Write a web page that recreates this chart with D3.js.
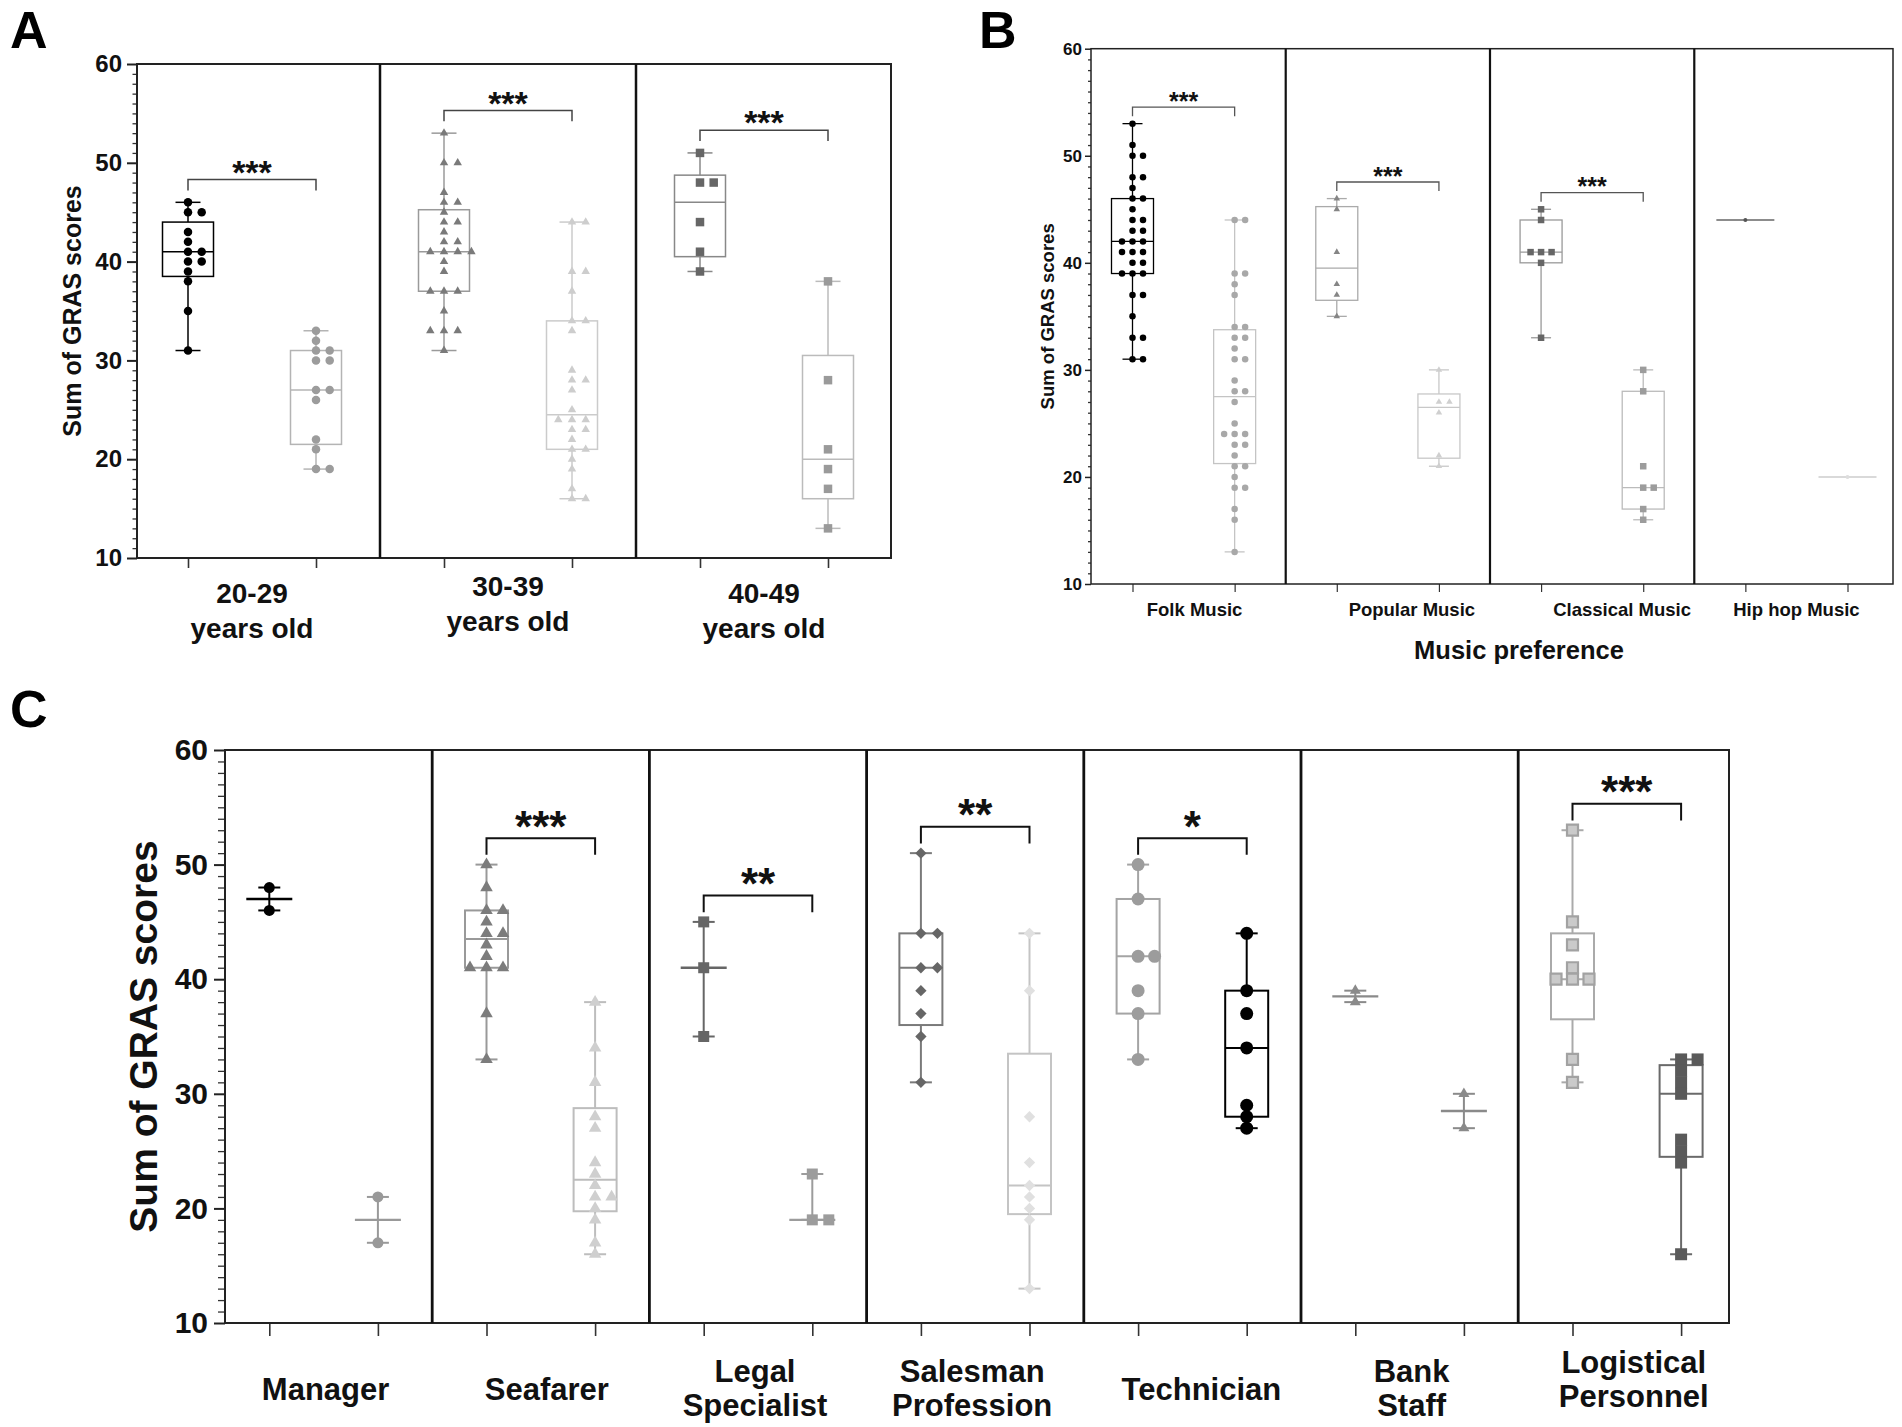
<!DOCTYPE html>
<html>
<head>
<meta charset="utf-8">
<script src="https://cdn.jsdelivr.net/npm/d3@7"></script>
<style>
  body { margin: 0; background: #fff; }
  svg text { font-family: "Liberation Sans", Arial, sans-serif; }
</style>
</head>
<body>
<svg id="fig" width="1902" height="1427"></svg>
<script>
// ---- data (sum of GRAS scores per respondent) ----
const yTicks = [10, 20, 30, 40, 50, 60];

// A: age groups
const ageLabels = [["20-29", "years old"], ["30-39", "years old"], ["40-49", "years old"]];
const ageFirst = [
  [46, 45, 45, 43, 42, 41, 41, 40, 40, 39, 38, 35, 31],
  [53, 50, 50, 47, 46, 46, 45, 44, 44, 43, 42, 42, 41, 41, 41, 41, 40, 39, 37, 37, 37, 35, 33, 33, 33, 31],
  [51, 48, 48, 44, 41, 39]
];
const ageSecond = [
  [33, 32, 31, 31, 30, 30, 27, 27, 26, 22, 21, 19, 19],
  [44, 44, 39, 39, 37, 34, 34, 33, 29, 28, 28, 27, 25, 24, 24, 24, 23, 23, 22, 21, 21, 20, 19, 17, 16, 16],
  [38, 28, 21, 19, 17, 13]
];
const ageStars = ["***", "***", "***"];

// B: music preference
const musicLabels = [["Folk Music"], ["Popular Music"], ["Classical Music"], ["Hip hop Music"]];
const musicFirst = [
  [53, 51, 50, 50, 48, 48, 47, 46, 46, 45, 44, 44, 43, 43, 42, 42, 42, 41, 41, 41, 40, 40, 39, 39, 39, 37, 37, 35, 33, 33, 31, 31],
  [46, 45, 41, 38, 37, 35],
  [45, 44, 41, 41, 41, 40, 33],
  [44]
];
const musicSecond = [
  [44, 44, 39, 39, 38, 37, 34, 34, 33, 33, 32, 31, 31, 29, 28, 28, 27, 25, 24, 24, 24, 23, 23, 22, 21, 21, 20, 19, 19, 17, 16, 13],
  [30, 27, 27, 26, 22, 21],
  [30, 28, 21, 19, 19, 17, 16],
  [20]
];
const musicStars = ["***", "***", "***", ""];

// C: occupation
const jobLabels = [["Manager"], ["Seafarer"], ["Legal", "Specialist"], ["Salesman", "Profession"],
                   ["Technician"], ["Bank", "Staff"], ["Logistical", "Personnel"]];
const jobFirst = [
  [48, 46],
  [50, 48, 46, 46, 45, 44, 44, 43, 42, 41, 41, 41, 37, 33],
  [45, 41, 35],
  [51, 44, 44, 41, 41, 39, 37, 35, 31],
  [50, 47, 42, 42, 39, 37, 33],
  [39, 38],
  [53, 45, 43, 41, 40, 40, 40, 33, 31]
];
const jobSecond = [
  [21, 17],
  [38, 34, 31, 28, 27, 24, 23, 22, 21, 21, 20, 19, 17, 16],
  [23, 19, 19],
  [44, 39, 28, 24, 22, 21, 20, 19, 13],
  [44, 39, 37, 34, 29, 28, 27],
  [30, 27],
  [33, 33, 32, 31, 30, 26, 25, 24, 16]
];
const jobStars = ["", "***", "**", "**", "*", "", "***"];

// ---- panel layout / styles ----
const panels = [
  {
    letter: "A", lx: 10, ly: 48,
    labels: ageLabels, first: ageFirst, second: ageSecond, stars: ageStars,
    left: 137, right: 891, x0: 188, x1: 828, top: 64, bottom: 558,
    tickFont: 24, majorLen: 10, minorLen: 4.5, tickPad: 5, xTickLen: 10,
    labelFont: 28, labelY: [603, 638], labelNudge: [0, 0, 0], labelLift: [0, 7, 0],
    title: "Sum of GRAS scores", titleFont: 25, titleX: 72,
    boxW: 51, capW: 25, lineW: 51, boxStroke: 1.5, step: 13.7, msize: 8.5,
    bracketGap: 2.3, bracketLeg: 1.1, starGap: 1.55, starFont: 34, bracketStroke: 1.5, bracketColor: "#444",
    frame: 2, divider: 2.5,
    styles: [
      [{shape: "circle", fill: "#000", line: "#000"}, {shape: "circle", fill: "#9c9c9c", line: "#b4b4b4"}],
      [{shape: "triangle", fill: "#7a7a7a", line: "#9a9a9a"}, {shape: "triangle", fill: "#cdcdcd", line: "#cbcbcb"}],
      [{shape: "square", fill: "#666", line: "#888"}, {shape: "square", fill: "#9a9a9a", line: "#bbb"}]
    ]
  },
  {
    letter: "B", lx: 979, ly: 48,
    labels: musicLabels, first: musicFirst, second: musicSecond, stars: musicStars,
    left: 1091, right: 1893, x0: 1132.5, x1: 1847.5, top: 48.7, bottom: 584,
    tickFont: 17, majorLen: 6, minorLen: 3, tickPad: 3, xTickLen: 8,
    labelFont: 18.5, labelY: [615.5], labelNudge: [11, 24, 30, 0], labelLift: [0, 0, 0, 0],
    title: "Sum of GRAS scores", titleFont: 18.5, titleX: 1047,
    axisTitle: "Music preference", axisTitleFont: 25.5, axisTitleX: 1519, axisTitleY: 659,
    boxW: 42, capW: 20, lineW: 58, boxStroke: 1.3, step: 10.5, msize: 6.5,
    bracketGap: 1.55, bracketLeg: 0.85, starGap: 1.1, starFont: 25, bracketStroke: 1.3, bracketColor: "#555",
    frame: 1.5, divider: 2.2,
    styles: [
      [{shape: "circle", fill: "#000", line: "#000"}, {shape: "circle", fill: "#a8a8a8", line: "#c4c4c4"}],
      [{shape: "triangle", fill: "#858585", line: "#aaa"}, {shape: "triangle", fill: "#cfcfcf", line: "#c8c8c8"}],
      [{shape: "square", fill: "#666", line: "#999"}, {shape: "square", fill: "#9c9c9c", line: "#bbb"}],
      [{shape: "circle", fill: "#555", line: "#666", size: 4}, {shape: "circle", fill: "#ddd", line: "#ccc", size: 4}]
    ]
  },
  {
    letter: "C", lx: 10, ly: 727,
    labels: jobLabels, first: jobFirst, second: jobSecond, stars: jobStars,
    left: 225, right: 1729, x0: 269.3, x1: 1681.1, top: 750, bottom: 1323,
    tickFont: 30, majorLen: 11, minorLen: 7, tickPad: 6, xTickLen: 13,
    labelFont: 31, labelY: [1382, 1416], singleY: 1400, labelNudge: [2, 6, -3, -3, 9, 2, 7], labelLift: [0, 0, 0, 0, 0, 0, 9],
    title: "Sum of GRAS scores", titleFont: 39, titleX: 143,
    boxW: 43, capW: 22, lineW: 46, boxStroke: 2, step: 16.5, msize: 11,
    bracketGap: 2.3, bracketLeg: 1.45, starGap: 1.9, starFont: 44, bracketStroke: 2, bracketColor: "#111",
    frame: 2, divider: 2.8,
    styles: [
      [{shape: "circle", fill: "#000", line: "#000", size: 11}, {shape: "circle", fill: "#999", line: "#999", size: 11}],
      [{shape: "triangle", fill: "#7c7c7c", line: "#999", size: 12.5}, {shape: "triangle", fill: "#cfcfcf", line: "#bdbdbd", size: 12.5}],
      [{shape: "square", fill: "#666", line: "#666"}, {shape: "square", fill: "#9c9c9c", line: "#9c9c9c"}],
      [{shape: "diamond", fill: "#666", line: "#7a7a7a", size: 8}, {shape: "diamond", fill: "#e0e0e0", line: "#c4c4c4", size: 8}],
      [{shape: "circle", fill: "#9c9c9c", line: "#a4a4a4", size: 13}, {shape: "circle", fill: "#000", line: "#000", size: 13}],
      [{shape: "triangle", fill: "#8a8a8a", line: "#8a8a8a", size: 11}, {shape: "triangle", fill: "#8a8a8a", line: "#8a8a8a", size: 11}],
      [{shape: "square", fill: "#cacaca", line: "#aaa", stroke: "#a2a2a2", size: 11}, {shape: "square", fill: "#5a5a5a", line: "#6a6a6a", size: 12}]
    ]
  }
];

const svg = d3.select("#fig");

// quartiles the way GraphPad Prism computes them: position (n+1)p
function quart(sorted, p) {
  const n = sorted.length;
  let pos = (n + 1) * p;
  pos = Math.max(1, Math.min(n, pos));
  const lo = Math.floor(pos), hi = Math.ceil(pos);
  return sorted[lo - 1] + (pos - lo) * (sorted[hi - 1] - sorted[lo - 1]);
}

// column scatter: equal values spread sideways
function swarm(values, cx, step, gap, y) {
  const order = [0, 1, -1, 2, -2, 3, -3, 4, -4];
  const placed = [];
  values.slice().sort((a, b) => b - a).forEach(v => {
    const py = y(v);
    let slot = order.find(s => placed.every(p => p.slot !== s || Math.abs(p.y - py) >= gap));
    if (slot === undefined) slot = 0;
    placed.push({v: v, slot: slot, y: py, x: cx + slot * step});
  });
  return placed;
}

function symbolPath(shape, d) {
  if (shape === "circle") return d3.symbol(d3.symbolCircle, Math.PI * d * d / 4)();
  if (shape === "triangle") return d3.symbol(d3.symbolTriangle, Math.sqrt(3) / 4 * d * d)();
  return d3.symbol(d3.symbolSquare, d * d)();
}

panels.forEach(P => {
  const g = svg.append("g");
  const nGroups = P.labels.length;
  const y = d3.scaleLinear().domain([10, 60]).range([P.bottom, P.top]);
  const x = d3.scalePoint().domain(d3.range(nGroups * 2)).range([P.x0, P.x1]);

  // panel letter
  svg.append("text").attr("x", P.lx).attr("y", P.ly)
    .attr("font-size", 52).attr("font-weight", "bold").text(P.letter);

  // y axis: major + minor ticks
  const yMinor = d3.range(10, 61).filter(v => v % 10 !== 0);
  g.append("g").attr("transform", `translate(${P.left},0)`)
    .call(d3.axisLeft(y).tickValues(yMinor).tickSize(P.minorLen).tickFormat(() => ""))
    .call(a => a.select(".domain").remove())
    .selectAll("line").attr("stroke", "#333").attr("stroke-width", 1.3);
  const yAx = g.append("g").attr("transform", `translate(${P.left},0)`)
    .call(d3.axisLeft(y).tickValues(yTicks).tickSize(P.majorLen).tickPadding(P.tickPad))
    .call(a => a.select(".domain").remove());
  yAx.selectAll("line").attr("stroke", "#222").attr("stroke-width", P.frame);
  yAx.selectAll("text").attr("font-size", P.tickFont).attr("font-weight", "bold")
    .attr("fill", "#111").attr("font-family", "Liberation Sans, Arial, sans-serif");

  // x axis ticks (no labels)
  const xAx = g.append("g").attr("transform", `translate(0,${P.bottom})`)
    .call(d3.axisBottom(x).tickSize(P.xTickLen).tickFormat(() => ""))
    .call(a => a.select(".domain").remove());
  xAx.selectAll("line").attr("stroke", "#333").attr("stroke-width", P.frame * 0.8);

  // frame + dividers
  g.append("rect").attr("x", P.left).attr("y", P.top)
    .attr("width", P.right - P.left).attr("height", P.bottom - P.top)
    .attr("fill", "none").attr("stroke", "#222").attr("stroke-width", P.frame);
  d3.range(1, nGroups).forEach(i => {
    const dx = (x(2 * i - 1) + x(2 * i)) / 2;
    g.append("line").attr("x1", dx).attr("x2", dx).attr("y1", P.top).attr("y2", P.bottom)
      .attr("stroke", "#111").attr("stroke-width", P.divider);
  });

  // y title
  g.append("text")
    .attr("transform", `translate(${P.titleX},${(P.top + P.bottom) / 2}) rotate(-90)`)
    .attr("text-anchor", "middle").attr("dominant-baseline", "central")
    .attr("font-size", P.titleFont).attr("font-weight", "bold").attr("fill", "#111")
    .text(P.title);

  if (P.axisTitle) {
    g.append("text").attr("x", P.axisTitleX).attr("y", P.axisTitleY)
      .attr("text-anchor", "middle").attr("font-size", P.axisTitleFont)
      .attr("font-weight", "bold").attr("fill", "#111").text(P.axisTitle);
  }

  // group labels
  P.labels.forEach((lines, i) => {
    const cx = (x(2 * i) + x(2 * i + 1)) / 2 + P.labelNudge[i];
    const t = g.append("text").attr("text-anchor", "middle")
      .attr("font-size", P.labelFont).attr("font-weight", "bold").attr("fill", "#111");
    const ys = (lines.length === 1 && P.singleY) ? [P.singleY] : P.labelY;
    lines.forEach((ln, k) => {
      t.append("tspan").attr("x", cx).attr("y", ys[k] - P.labelLift[i]).text(ln);
    });
  });

  // boxes + points
  d3.range(nGroups).forEach(i => {
    [P.first[i], P.second[i]].forEach((vals, k) => {
      const st = P.styles[i][k];
      const cx = x(2 * i + k);
      const s = vals.slice().sort((a, b) => a - b);
      const n = s.length;
      const med = quart(s, 0.5), q1 = quart(s, 0.25), q3 = quart(s, 0.75);
      const lo = s[0], hi = s[n - 1];
      const sw = P.boxStroke;
      const bg = g.append("g").attr("stroke", st.line).attr("stroke-width", sw).attr("fill", "none");
      if (n >= 4) {
        bg.append("rect").attr("x", cx - P.boxW / 2).attr("y", y(q3))
          .attr("width", P.boxW).attr("height", y(q1) - y(q3));
        bg.append("line").attr("x1", cx - P.boxW / 2).attr("x2", cx + P.boxW / 2)
          .attr("y1", y(med)).attr("y2", y(med));
        bg.append("line").attr("x1", cx).attr("x2", cx).attr("y1", y(hi)).attr("y2", y(q3));
        bg.append("line").attr("x1", cx).attr("x2", cx).attr("y1", y(q1)).attr("y2", y(lo));
      } else {
        // too few values for a box: median line, range and caps only
        const w = P.lineW;
        bg.append("line").attr("x1", cx - w / 2).attr("x2", cx + w / 2)
          .attr("y1", y(med)).attr("y2", y(med)).attr("stroke-width", sw * 1.2);
        if (n > 1) bg.append("line").attr("x1", cx).attr("x2", cx).attr("y1", y(hi)).attr("y2", y(lo));
      }
      if (n > 1) {
        [lo, hi].forEach(v => {
          bg.append("line").attr("x1", cx - P.capW / 2).attr("x2", cx + P.capW / 2)
            .attr("y1", y(v)).attr("y2", y(v));
        });
      }

      const ms = st.size || P.msize;
      const pts = swarm(vals, cx, P.step, ms * 0.85, y);
      g.append("g").selectAll("path").data(pts).join("path")
        .attr("transform", d => `translate(${d.x},${d.y})` + (st.shape === "diamond" ? " rotate(45)" : ""))
        .attr("d", symbolPath(st.shape, ms))
        .attr("fill", st.fill)
        .attr("stroke", st.stroke || "none")
        .attr("stroke-width", st.stroke ? 2.2 : 0);
    });

    // significance bracket
    const star = P.stars[i];
    if (star) {
      const top = Math.max(d3.max(P.first[i]), d3.max(P.second[i])) + P.bracketGap;
      const xa = x(2 * i), xb = x(2 * i + 1);
      const yt = y(top), yl = y(top - P.bracketLeg);
      g.append("path").attr("d", `M${xa},${yl}V${yt}H${xb}V${yl}`)
        .attr("fill", "none").attr("stroke", P.bracketColor).attr("stroke-width", P.bracketStroke);
      g.append("text").attr("x", (xa + xb) / 2)
        .attr("y", y(top + P.starGap) + 0.575 * P.starFont)
        .attr("text-anchor", "middle").attr("font-size", P.starFont).attr("font-weight", "bold")
        .attr("fill", "#111").text(star);
    }
  });
});
</script>
</body>
</html>
